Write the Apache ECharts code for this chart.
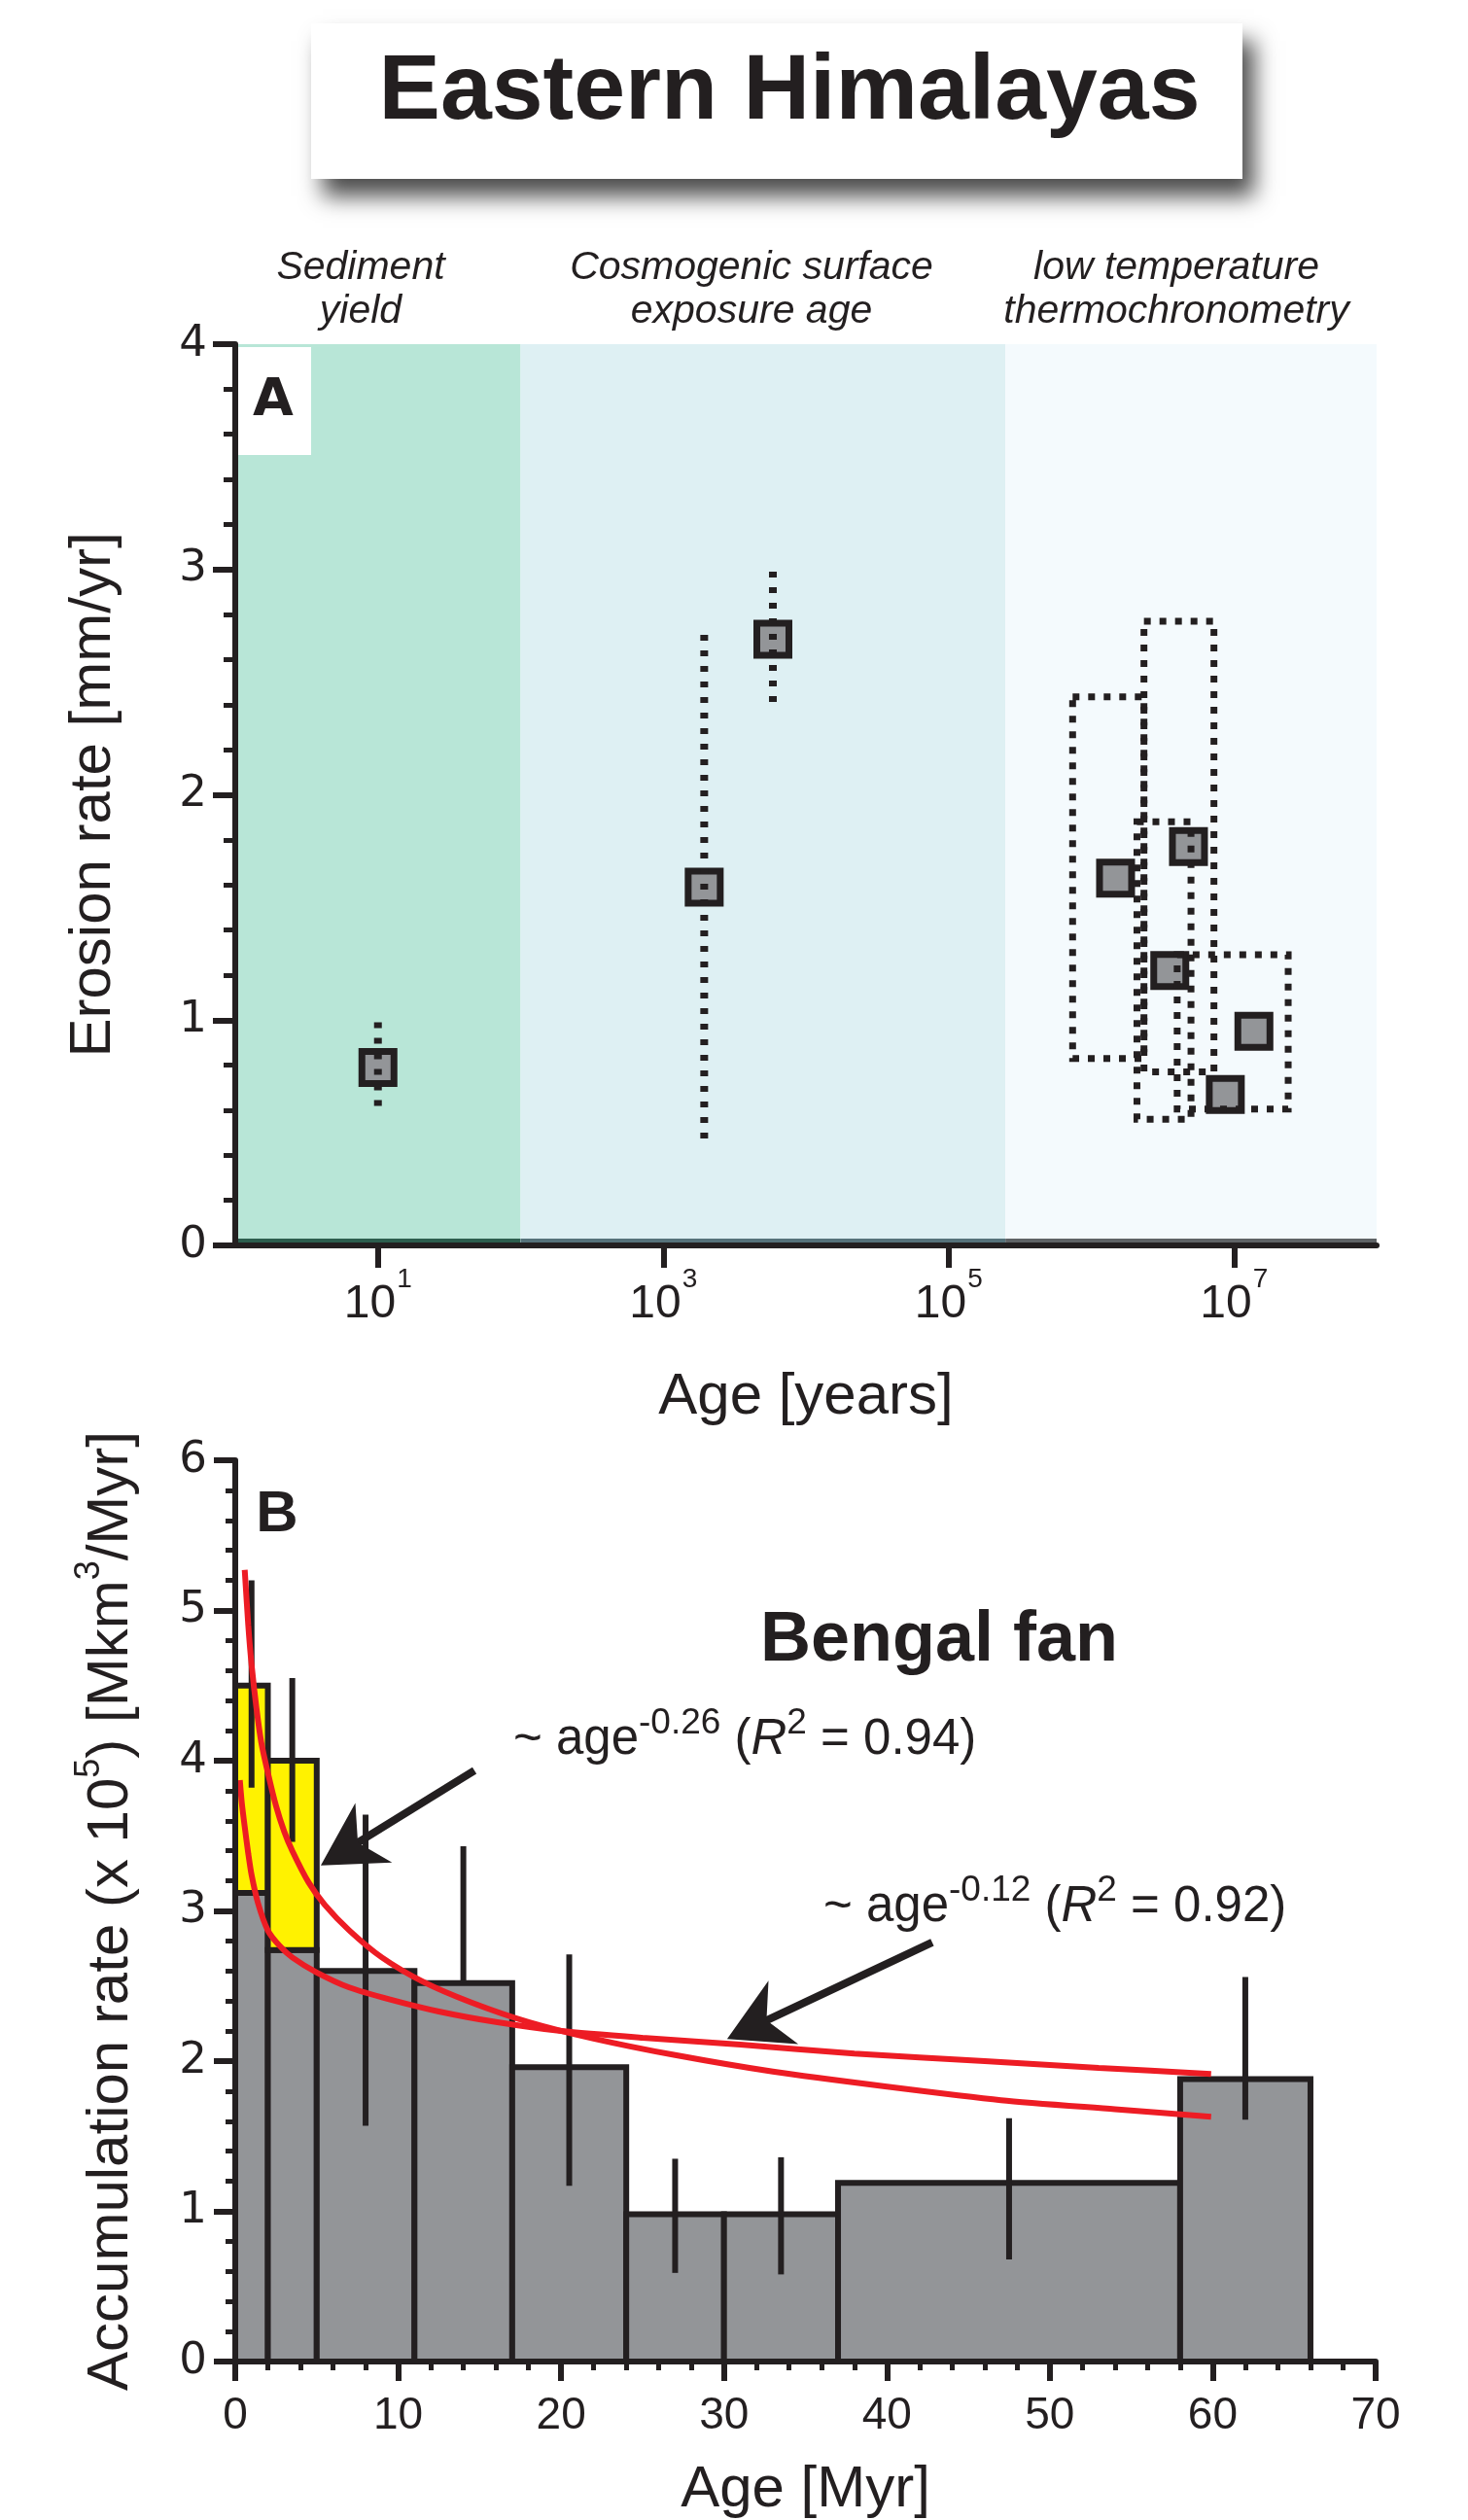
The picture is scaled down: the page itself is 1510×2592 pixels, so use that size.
<!DOCTYPE html>
<html>
<head>
<meta charset="utf-8">
<script src="https://cdn.jsdelivr.net/npm/echarts@6/dist/echarts.min.js"></script>
<style>html,body{margin:0;padding:0;background:#fff}#c{width:1510px;height:2592px}</style>
</head>
<body>
<div id="c"></div>
<script>
// ---------------- Panel A data ----------------
const methodLabels = ['Sediment\nyield', 'Cosmogenic surface\nexposure age', 'low temperature\nthermochronometry'];
const bandEdges = [1, 100, 250000, 1e8];           // age limits of the three method bands
const rateMaxA = 4;
const ageTicksA = [10, 1000, 100000, 10000000];
const pointAges  = [10, 1936, 5865, 1.48e6, 4.8e6, 3.55e6, 1.38e7, 8.7e6];
const pointRates = [0.79, 1.59, 2.69, 1.63, 1.77, 1.22, 0.95, 0.67];
const errAgesA = [10, 1936, 5865];
const errLowA  = [0.60, 0.47, 2.40];
const errHighA = [0.99, 2.71, 2.99];
const boxAgeMin  = [7.4e5, 2.34e6, 2.09e6, 4.0e6];
const boxAgeMax  = [2.34e6, 7.24e6, 5.0e6, 2.4e7];
const boxRateMin = [0.83, 0.77, 0.56, 0.605];
const boxRateMax = [2.435, 2.77, 1.88, 1.29];

// ---------------- Panel B data ----------------
const binStart = [0, 2, 5, 11, 17, 24, 30, 37, 58];
const binEnd   = [2, 5, 11, 17, 24, 30, 37, 58, 66];
const accRate  = [3.12, 2.74, 2.60, 2.52, 1.96, 0.98, 0.98, 1.19, 1.88];
const extraStart = [0, 2];
const extraEnd   = [2, 5];
const extraBase  = [3.12, 2.74];
const extraTop   = [4.5, 4.0];
const errAgeB  = [1.0, 3.5, 8.0, 14.0, 20.5, 27.0, 33.5, 47.5, 62.0];
const errLowB  = [3.82, 3.46, 1.57, 2.52, 1.17, 0.59, 0.58, 0.68, 1.61];
const errHighB = [5.20, 4.55, 3.64, 3.43, 2.71, 1.35, 1.36, 1.62, 2.56];
const fitA_age  = [0.58, 0.8, 1.0, 1.3, 1.6, 2.0, 2.5, 3.0, 3.5, 4.5, 5.5, 7, 9, 11.5, 14.5, 18, 22, 27, 33, 40, 47, 54, 59.9];
const fitA_rate = [5.27, 4.90, 4.64, 4.35, 4.12, 3.92, 3.70, 3.53, 3.40, 3.19, 3.04, 2.87, 2.69, 2.53, 2.39, 2.26, 2.15, 2.04, 1.93, 1.83, 1.74, 1.68, 1.63];
const fitB_age  = [0.28, 0.4, 0.58, 0.8, 1.0, 1.4, 2.0, 2.7, 3.5, 5, 7, 9.5, 12.5, 16, 20, 25, 31, 38, 46, 53, 59.9];
const fitB_rate = [3.87, 3.72, 3.56, 3.38, 3.24, 3.05, 2.87, 2.77, 2.69, 2.59, 2.49, 2.41, 2.33, 2.26, 2.20, 2.155, 2.11, 2.05, 2.00, 1.955, 1.915];
const arrowTail = [[14.68, 3.935], [42.78, 2.79]];
const arrowTip  = [[5.25, 3.303], [30.19, 2.148]];

// ---------------- styles ----------------
const BLACK = '#231f20';
const FONT = "'Liberation Sans', Arial, Helvetica, sans-serif";
const ROUND = "'DejaVu Sans', 'Liberation Sans', sans-serif";
const bandFill = ['#b8e6d7', '#def0f3', '#f4fafd'];
const bandEdgeFill = ['#2c5e4e', '#56727a', '#5f6366'];

const chart = echarts.init(document.getElementById('c'), null, {renderer: 'canvas', width: 1510, height: 2592});

const rectItem = (fill, stroke, lw, dash) => (params, api) => {
  const a = api.coord([api.value(0), api.value(3)]);
  const b = api.coord([api.value(1), api.value(2)]);
  return {type: 'rect', shape: {x: a[0], y: a[1], width: b[0] - a[0], height: b[1] - a[1]},
          style: {fill: fill, stroke: stroke, lineWidth: lw, lineDash: dash || null}};
};

const option = {
  animation: false,
  backgroundColor: '#ffffff',
  grid: [
    {left: 242, top: 354, width: 1174, height: 927},
    {left: 242, top: 1502, width: 1173, height: 930}
  ],
  xAxis: [
    {
      gridIndex: 0, type: 'log', logBase: 10, min: 1, max: 1e8, z: 10,
      name: 'Age [years]', nameLocation: 'middle', nameGap: 126,
      nameTextStyle: {fontFamily: FONT, fontSize: 60, color: BLACK, lineHeight: 60},
      axisLine: {lineStyle: {color: BLACK, width: 6}},
      axisTick: {customValues: ageTicksA, length: 23, lineStyle: {color: BLACK, width: 6}},
      minorTick: {show: false},
      splitLine: {show: false},
      axisLabel: {
        customValues: ageTicksA, margin: 37,
        formatter: v => '{b|10}{s|' + Math.round(Math.log10(v)) + '}',
        rich: {
          b: {fontFamily: FONT, fontSize: 48, lineHeight: 48, color: BLACK, verticalAlign: 'bottom'},
          s: {fontFamily: FONT, fontSize: 28, lineHeight: 28, color: BLACK, verticalAlign: 'bottom', padding: [0, 0, 36, 1]}
        }
      }
    },
    {
      gridIndex: 1, type: 'value', min: 0, max: 70, interval: 10, z: 10,
      name: 'Age [Myr]', nameLocation: 'middle', nameGap: 102,
      nameTextStyle: {fontFamily: FONT, fontSize: 60, color: BLACK, lineHeight: 60},
      axisLine: {lineStyle: {color: BLACK, width: 6}},
      axisTick: {length: 20, lineStyle: {color: BLACK, width: 6}},
      minorTick: {show: true, splitNumber: 5, length: 9, lineStyle: {color: BLACK, width: 5}},
      splitLine: {show: false},
      axisLabel: {margin: 33, fontFamily: FONT, fontSize: 46, color: BLACK, lineHeight: 46}
    }
  ],
  yAxis: [
    {
      gridIndex: 0, type: 'value', min: 0, max: rateMaxA, interval: 1, z: 10,
      name: 'Erosion rate [mm/yr]', nameLocation: 'middle', nameGap: 116,
      nameTextStyle: {fontFamily: FONT, fontSize: 60, color: BLACK, lineHeight: 60},
      axisLine: {show: true, lineStyle: {color: BLACK, width: 6}},
      axisTick: {show: true, length: 23, lineStyle: {color: BLACK, width: 6}},
      minorTick: {show: true, splitNumber: 5, length: 12, lineStyle: {color: BLACK, width: 5}},
      splitLine: {show: false},
      axisLabel: {margin: 29, fontFamily: ROUND, fontSize: 45, color: BLACK}
    },
    {
      gridIndex: 1, type: 'value', min: 0, max: 6, interval: 1, z: 10,
      name: '{m|Accumulation rate (x 10}{s|5}{m|) [Mkm}{s|3}{m|/Myr]}',
      nameLocation: 'middle', nameGap: 98,
      nameTextStyle: {
        rich: {
          m: {fontFamily: FONT, fontSize: 60, lineHeight: 60, color: BLACK, verticalAlign: 'bottom'},
          s: {fontFamily: FONT, fontSize: 36, lineHeight: 36, color: BLACK, verticalAlign: 'bottom', padding: [0, 0, 34, 0]}
        }
      },
      axisLine: {show: true, lineStyle: {color: BLACK, width: 6}},
      axisTick: {show: true, length: 22, lineStyle: {color: BLACK, width: 6}},
      minorTick: {show: true, splitNumber: 5, length: 10, lineStyle: {color: BLACK, width: 5}},
      splitLine: {show: false},
      axisLabel: {margin: 29, fontFamily: ROUND, fontSize: 45, color: BLACK}
    }
  ],
  series: [
    // ---- Panel A ----
    {
      type: 'custom', xAxisIndex: 0, yAxisIndex: 0, z: 1, silent: true,
      data: bandEdges.slice(0, -1).map((e, i) => [e, bandEdges[i + 1], 0, rateMaxA, i]),
      encode: {x: [0, 1], y: [2, 3]},
      renderItem: (params, api) => {
        const a = api.coord([api.value(0), api.value(3)]);
        const b = api.coord([api.value(1), api.value(2)]);
        const k = api.value(4);
        return {type: 'group', children: [
          {type: 'rect', shape: {x: a[0], y: a[1], width: b[0] - a[0], height: b[1] - a[1]}, style: {fill: bandFill[k]}},
          {type: 'rect', shape: {x: a[0], y: b[1] - 7, width: b[0] - a[0], height: 5}, style: {fill: bandEdgeFill[k]}}
        ]};
      }
    },
    {
      type: 'scatter', xAxisIndex: 0, yAxisIndex: 0, z: 3,
      symbol: 'rect', symbolSize: 33,
      itemStyle: {color: '#939598', borderColor: BLACK, borderWidth: 7, opacity: 1},
      data: pointAges.map((a, i) => [a, pointRates[i]])
    },
    {
      type: 'custom', xAxisIndex: 0, yAxisIndex: 0, z: 4,
      data: errAgesA.map((a, i) => [a, errLowA[i], errHighA[i]]),
      encode: {x: 0, y: [1, 2]},
      renderItem: (params, api) => {
        const a = api.coord([api.value(0), api.value(2)]);
        const b = api.coord([api.value(0), api.value(1)]);
        return {type: 'line', shape: {x1: a[0], y1: a[1], x2: b[0], y2: b[1]},
                style: {stroke: BLACK, lineWidth: 8, lineDash: [6, 10], lineCap: 'butt'}};
      }
    },
    {
      type: 'custom', xAxisIndex: 0, yAxisIndex: 0, z: 5,
      data: boxAgeMin.map((a, i) => [a, boxAgeMax[i], boxRateMin[i], boxRateMax[i]]),
      encode: {x: [0, 1], y: [2, 3]},
      renderItem: rectItem('none', BLACK, 7, [7, 9])
    },
    // ---- Panel B ----
    {
      type: 'custom', xAxisIndex: 1, yAxisIndex: 1, z: 2,
      data: binStart.map((s, i) => [s, binEnd[i], 0, accRate[i]]),
      encode: {x: [0, 1], y: [2, 3]},
      renderItem: rectItem('#939598', BLACK, 6)
    },
    {
      type: 'custom', xAxisIndex: 1, yAxisIndex: 1, z: 3,
      data: extraStart.map((s, i) => [s, extraEnd[i], extraBase[i], extraTop[i]]),
      encode: {x: [0, 1], y: [2, 3]},
      renderItem: rectItem('#fff200', BLACK, 6)
    },
    {
      type: 'custom', xAxisIndex: 1, yAxisIndex: 1, z: 4,
      data: errAgeB.map((a, i) => [a, errLowB[i], errHighB[i]]),
      encode: {x: 0, y: [1, 2]},
      renderItem: (params, api) => {
        const a = api.coord([api.value(0), api.value(2)]);
        const b = api.coord([api.value(0), api.value(1)]);
        return {type: 'line', shape: {x1: a[0], y1: a[1], x2: b[0], y2: b[1]},
                style: {stroke: BLACK, lineWidth: 6, lineCap: 'butt'}};
      }
    },
    {
      type: 'line', xAxisIndex: 1, yAxisIndex: 1, z: 5, smooth: 0.25,
      symbol: 'none', lineStyle: {color: '#ed1c24', width: 6},
      data: fitA_age.map((a, i) => [a, fitA_rate[i]])
    },
    {
      type: 'line', xAxisIndex: 1, yAxisIndex: 1, z: 5, smooth: 0.25,
      symbol: 'none', lineStyle: {color: '#ed1c24', width: 6},
      data: fitB_age.map((a, i) => [a, fitB_rate[i]])
    },
    {
      type: 'custom', xAxisIndex: 1, yAxisIndex: 1, z: 6,
      data: arrowTail.map((t, i) => [t[0], t[1], arrowTip[i][0], arrowTip[i][1]]),
      encode: {x: [0, 2], y: [1, 3]},
      renderItem: (params, api) => {
        const t = api.coord([api.value(0), api.value(1)]);
        const h = api.coord([api.value(2), api.value(3)]);
        const dx = h[0] - t[0], dy = h[1] - t[1], len = Math.hypot(dx, dy);
        const ux = dx / len, uy = dy / len, nx = -uy, ny = ux;
        const L = 64, W = 36, N = 0.7 * L;
        const bx = h[0] - ux * L, by = h[1] - uy * L;
        const pts = [[h[0], h[1]], [bx + nx * W, by + ny * W], [h[0] - ux * N, h[1] - uy * N], [bx - nx * W, by - ny * W]];
        return {type: 'group', children: [
          {type: 'line', shape: {x1: t[0], y1: t[1], x2: h[0] - ux * N * 0.95, y2: h[1] - uy * N * 0.95},
           style: {stroke: BLACK, lineWidth: 8}},
          {type: 'polygon', shape: {points: pts}, style: {fill: BLACK}}
        ]};
      }
    }
  ],
  graphic: [
    // title box
    {type: 'rect', z: 20, shape: {x: 320, y: 24, width: 958, height: 160},
     style: {fill: '#ffffff', shadowBlur: 22, shadowColor: 'rgba(0,0,0,0.7)', shadowOffsetX: 12, shadowOffsetY: 18}},
    {type: 'text', z: 21, x: 812, y: 96,
     style: {text: 'Eastern Himalayas', fontFamily: FONT, fontWeight: 'bold', fontSize: 95, fill: BLACK, align: 'center', verticalAlign: 'middle'}},
    // method labels
    {type: 'text', z: 21, x: 371, y: 298,
     style: {text: methodLabels[0], fontFamily: FONT, fontStyle: 'italic', fontSize: 41, lineHeight: 45, fill: BLACK, align: 'center', verticalAlign: 'middle'}},
    {type: 'text', z: 21, x: 773, y: 298,
     style: {text: methodLabels[1], fontFamily: FONT, fontStyle: 'italic', fontSize: 41, lineHeight: 45, fill: BLACK, align: 'center', verticalAlign: 'middle'}},
    {type: 'text', z: 21, x: 1210, y: 298,
     style: {text: methodLabels[2], fontFamily: FONT, fontStyle: 'italic', fontSize: 41, lineHeight: 45, fill: BLACK, align: 'center', verticalAlign: 'middle'}},
    // panel labels
    {type: 'rect', z: 20, shape: {x: 245, y: 357, width: 75, height: 111}, style: {fill: '#ffffff'}},
    {type: 'text', z: 21, x: 281, y: 413,
     style: {text: 'A', fontFamily: ROUND, fontWeight: 'bold', fontSize: 54, fill: BLACK, align: 'center', verticalAlign: 'middle'}},
    {type: 'text', z: 21, x: 285, y: 1558,
     style: {text: 'B', fontFamily: FONT, fontWeight: 'bold', fontSize: 60, fill: BLACK, align: 'center', verticalAlign: 'middle'}},
    {type: 'text', z: 21, x: 966, y: 1688,
     style: {text: 'Bengal fan', fontFamily: FONT, fontWeight: 'bold', fontSize: 72, fill: BLACK, align: 'center', verticalAlign: 'middle'}},
    // fit annotations
    {type: 'text', z: 21, x: 528, y: 1790,
     style: {text: '{m|~ age}{s|-0.26}{m| (}{i|R}{s|2}{m| = 0.94)}', align: 'left', verticalAlign: 'middle',
       rich: {
         m: {fontFamily: FONT, fontSize: 51, lineHeight: 51, fill: BLACK, verticalAlign: 'bottom'},
         i: {fontFamily: FONT, fontStyle: 'italic', fontSize: 51, lineHeight: 51, fill: BLACK, verticalAlign: 'bottom'},
         s: {fontFamily: FONT, fontSize: 37, lineHeight: 37, fill: BLACK, verticalAlign: 'bottom', padding: [0, 0, 24, 0]}
       }}},
    {type: 'text', z: 21, x: 847, y: 1962,
     style: {text: '{m|~ age}{s|-0.12}{m| (}{i|R}{s|2}{m| = 0.92)}', align: 'left', verticalAlign: 'middle',
       rich: {
         m: {fontFamily: FONT, fontSize: 51, lineHeight: 51, fill: BLACK, verticalAlign: 'bottom'},
         i: {fontFamily: FONT, fontStyle: 'italic', fontSize: 51, lineHeight: 51, fill: BLACK, verticalAlign: 'bottom'},
         s: {fontFamily: FONT, fontSize: 37, lineHeight: 37, fill: BLACK, verticalAlign: 'bottom', padding: [0, 0, 24, 0]}
       }}}
  ]
};
chart.setOption(option);
</script>
</body>
</html>
